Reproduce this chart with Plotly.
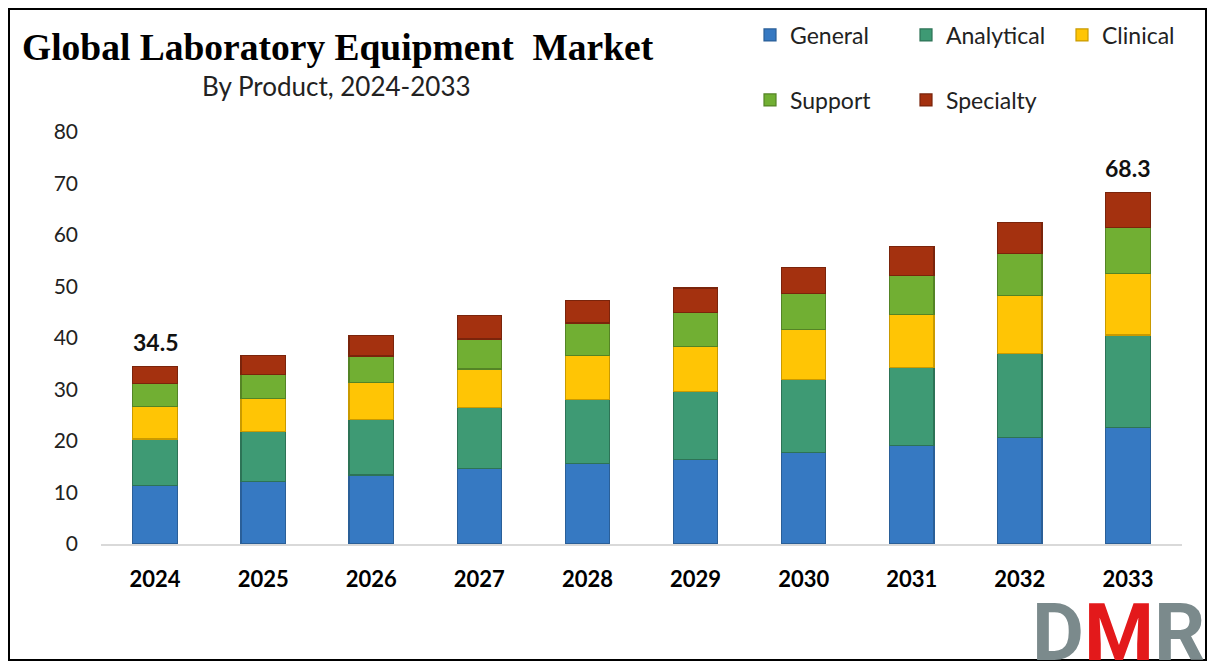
import plotly.graph_objects as go

years = ["2024", "2025", "2026", "2027", "2028", "2029", "2030", "2031", "2032", "2033"]
general = [11.4, 12.2, 13.4, 14.7, 15.7, 16.4, 17.8, 19.1, 20.7, 22.7]
analytical = [9.0, 9.6, 10.7, 11.8, 12.4, 13.2, 14.2, 15.1, 16.3, 17.9]
clinical = [6.3, 6.4, 7.2, 7.5, 8.5, 8.7, 9.7, 10.4, 11.2, 12.0]
support = [4.5, 4.7, 5.2, 5.8, 6.3, 6.6, 7.0, 7.5, 8.2, 8.9]
specialty = [3.3, 3.7, 4.0, 4.5, 4.4, 4.8, 5.0, 5.6, 6.0, 6.8]
label_years = ["2024", "2033"]
label_values = [34.5, 68.3]

series = [
    ("General", general, "#3679C2", "#2a5f98", "legend"),
    ("Analytical", analytical, "#3E9A74", "#2d7356", "legend"),
    ("Clinical", clinical, "#FFC505", "#c99a00", "legend"),
    ("Support", support, "#71AF33", "#548425", "legend2"),
    ("Specialty", specialty, "#A4310F", "#7a240b", "legend2"),
]

# the page body has an 8px margin, so the figure is placed at (8, 8) on screen
OFF = 8
W, H = 1208 - OFF, 663 - OFF
ml, mt, mb = 101 - OFF, 132 - OFF, 119
mr = (W + OFF) - 1182
pw, ph = W - ml - mr, H - mt - mb


def px_x(sx):
    return (sx - OFF - ml) / pw


def px_y(sy):
    return (H - mb - (sy - OFF)) / ph


def cx(sx):
    return (sx - OFF) / W


def cy(sy):
    return 1 - (sy - OFF) / H


fig = go.Figure()
for name, vals, col, edge, leg in series:
    fig.add_trace(go.Bar(
        x=years, y=vals, name=name, legend=leg,
        marker=dict(color=col, line=dict(color=edge, width=1.2)),
    ))

for yr, v in zip(label_years, label_values):
    fig.add_annotation(
        x=years.index(yr), y=v, text="<b>%.1f</b>" % v, showarrow=False,
        yanchor="bottom", yshift=8,
        font=dict(family="Lato", size=23, color="#111111"),
    )

fig.add_annotation(
    xref="paper", yref="paper", x=px_x(336), y=px_y(86),
    text="By Product, 2024-2033", showarrow=False,
    xanchor="center", yanchor="middle",
    font=dict(family="Lato", size=26, color="#222222"),
)

fig.add_annotation(
    xref="paper", yref="paper", x=px_x(1118), y=px_y(633),
    text="<b><span style='color:#7b8a8c'>D</span><span style='color:#e3191b'>M</span><span style='color:#7b8a8c'>R</span></b>",
    showarrow=False, xanchor="center", yanchor="middle",
    height=60, valign="middle",
    font=dict(family="Roboto", size=80),
)

fig.add_shape(
    type="rect", xref="paper", yref="paper",
    x0=px_x(OFF + 1), x1=px_x(1206), y0=px_y(660), y1=px_y(OFF + 1),
    line=dict(color="black", width=2), fillcolor="rgba(0,0,0,0)",
)

legend_common = dict(
    orientation="h", xanchor="left", yanchor="middle",
    xref="container", yref="container",
    entrywidth=111, entrywidthmode="pixels",
    font=dict(family="Lato", size=23, color="#222222"),
    traceorder="normal", bgcolor="rgba(0,0,0,0)",
)

fig.update_layout(
    width=W, height=H,
    margin=dict(l=ml, r=mr, t=mt, b=mb, autoexpand=False),
    paper_bgcolor="white", plot_bgcolor="white",
    barmode="stack", bargap=0.59,
    title=dict(
        text="<b>Global Laboratory Equipment  Market</b>",
        x=cx(22), xanchor="left", y=cy(47), yanchor="middle",
        font=dict(family="Liberation Serif", size=37.5, color="black"),
    ),
    legend=dict(x=cx(750), y=cy(35), **legend_common),
    legend2=dict(x=cx(750), y=cy(100), **legend_common),
    xaxis=dict(
        type="category",
        showline=True, linecolor="#d9d9d9", linewidth=2,
        showgrid=False, ticks="", ticklabelstandoff=15,
        tickfont=dict(family="Lato", size=22, color="black", weight="bold"),
    ),
    yaxis=dict(
        range=[0, 80], dtick=10, showgrid=False, zeroline=False,
        showline=False, ticks="", ticklabelstandoff=22,
        tickfont=dict(family="Lato", size=21, color="#222222"),
    ),
)

fig.write_html("out.html")
